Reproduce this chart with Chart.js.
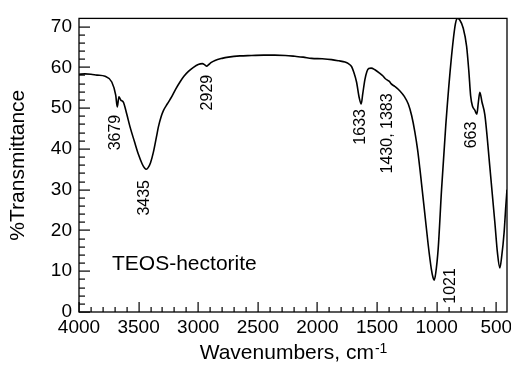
<!doctype html>
<html>

<head>
	<title>FTIR Spectrum - TEOS-hectorite</title>
	<script src="https://cdn.jsdelivr.net/npm/chart.js@4/dist/chart.umd.min.js"></script>
	<style>
	html, body {
		margin: 0;
		padding: 0;
		background: #fff;
	}
	.chart-container {
		width: 511px;
		height: 366px;
	}
	</style>
</head>

<body>
	<div class="chart-container">
		<canvas id="chart"></canvas>
	</div>
	<script>
		var FONT = '"Liberation Sans", Arial, Helvetica, sans-serif';

		// spectrum, high to low wavenumber (cm-1) and %T
		var wavenumbers = [
			4000, 3950, 3900, 3850, 3781, 3725, 3692, 3679, 3665, 3650,
			3627, 3600, 3572, 3535, 3501, 3470, 3450, 3435, 3420, 3400,
			3376, 3350, 3334, 3310, 3292, 3260, 3222, 3190, 3153, 3120,
			3082, 3040, 3000, 2965, 2945, 2929, 2915, 2890, 2859, 2800,
			2747, 2650, 2552, 2450, 2359, 2270, 2189, 2120, 2049, 1960,
			1881, 1820, 1769, 1740, 1714, 1695, 1672, 1650, 1633, 1620,
			1602, 1585, 1570, 1550, 1518, 1480, 1448, 1430, 1410, 1395,
			1383, 1350, 1308, 1270, 1238, 1210, 1183, 1160, 1141, 1127,
			1099, 1071, 1045, 1030, 1021, 1008, 987, 959, 923, 875,
			842, 825, 806, 777, 749, 730, 715, 700, 680, 663,
			650, 638, 620, 596, 554, 512, 490, 470, 455, 434,
			420, 410
		];
		var transmittance = [
			58.3, 58.4, 58.3, 58.1, 57.8, 56.4, 53.2, 50.3, 52.8, 52.0,
			51.4, 48.6, 45.4, 41.8, 38.6, 36.3, 35.3, 35.0, 35.4, 36.6,
			39.2, 43.0, 45.4, 48.0, 49.4, 51.0, 52.8, 54.6, 56.4, 57.8,
			59.0, 60.0, 60.7, 60.9, 60.6, 60.3, 60.6, 61.2, 61.7, 62.2,
			62.5, 62.8, 62.9, 63.0, 63.0, 62.9, 62.7, 62.5, 62.2, 62.1,
			61.9, 61.6, 61.3, 60.9, 60.2, 58.8, 56.4, 52.6, 51.0, 53.5,
			57.0, 59.0, 59.7, 59.8, 59.4, 58.6, 57.8, 57.2, 56.8, 56.5,
			56.0, 55.3, 54.2, 52.8, 51.0, 48.2, 44.2, 39.8, 35.2, 31.5,
			24.0, 16.5, 10.6, 8.4, 7.8, 9.5, 15.6, 30.0, 46.0, 62.8,
			70.8, 72.0, 71.6, 69.6, 65.2, 59.0, 53.0, 50.5, 49.5, 48.5,
			51.5, 53.9, 51.5, 48.4, 35.6, 22.0, 14.5, 10.8, 13.5, 19.6,
			26.0, 30.0
		];

		// axis ranges and tick steps (minor / labelled)
		var xRange = [410, 4000];
		var xMinorStep = 100;
		var xMajorStep = 500;
		var yRange = [0, 72];
		var yMinorStep = 2;
		var yMajorStep = 10;

		// band assignments written beside the curve: text, anchor wavenumber, anchor %T
		var bandLabels = ['3679', '3435', '2929', '1633', '1430, 1383', '663', '1021'];
		var bandLabelX = [3692, 3453, 2923, 1636, 1414, 708, 882];
		var bandLabelY = [44.0, 28.0, 53.8, 45.4, 43.8, 43.4, 6.4];

		var sampleName = 'TEOS-hectorite';
		var xTitle = 'Wavenumbers, cm';
		var xTitleSup = '-1';
		var yTitle = '%Transmittance';

		var points = wavenumbers.map(function(w, i) {
			return {x: w, y: transmittance[i]};
		});

		function stepTicks(min, max, step) {
			var out = [];
			for (var v = Math.ceil(min / step) * step; v <= max; v += step) {
				out.push({value: v});
			}
			return out;
		}

		// box frame, inward tick marks and the text overlays
		var spectrumDecor = {
			id: 'spectrumDecor',
			afterDraw: function(chart) {
				var ctx = chart.ctx;
				var a = chart.chartArea;
				var xs = chart.scales.x;
				var ys = chart.scales.y;

				ctx.save();
				ctx.strokeStyle = '#000';
				ctx.lineWidth = 1.3;
				ctx.strokeRect(a.left, a.top, a.right - a.left, a.bottom - a.top);

				// tick marks pointing into the plot
				ctx.fillStyle = '#000';
				var i, t, len, p;
				for (i = 0; i < xs.ticks.length; i++) {
					t = xs.ticks[i].value;
					len = t % xMajorStep === 0 ? 10 : 5;
					p = Math.round(xs.getPixelForValue(t));
					ctx.fillRect(p - 0.5, a.bottom - len, 1.2, len);
				}
				for (i = 0; i < ys.ticks.length; i++) {
					t = ys.ticks[i].value;
					if (t >= yRange[1]) continue;
					len = t % yMajorStep === 0 ? 11 : 6;
					p = Math.round(ys.getPixelForValue(t));
					ctx.fillRect(a.left, p - 0.5, len, 1.2);
				}

				// rotated band positions
				ctx.font = '16px ' + FONT;
				ctx.textAlign = 'center';
				ctx.textBaseline = 'middle';
				bandLabels.forEach(function(txt, k) {
					ctx.save();
					ctx.translate(xs.getPixelForValue(bandLabelX[k]), ys.getPixelForValue(bandLabelY[k]));
					ctx.rotate(-Math.PI / 2);
					ctx.fillText(txt, 0, 0);
					ctx.restore();
				});

				// sample name
				ctx.font = '21px ' + FONT;
				ctx.textAlign = 'left';
				ctx.fillText(sampleName, xs.getPixelForValue(3723), ys.getPixelForValue(11.8));

				// x axis title with superscript
				ctx.textBaseline = 'alphabetic';
				ctx.font = '21px ' + FONT;
				var wMain = ctx.measureText(xTitle).width;
				ctx.font = '14px ' + FONT;
				var wSup = ctx.measureText(xTitleSup).width;
				var x0 = (a.left + a.right) / 2 - (wMain + wSup) / 2;
				ctx.font = '21px ' + FONT;
				ctx.fillText(xTitle, x0, 359);
				ctx.font = '14px ' + FONT;
				ctx.fillText(xTitleSup, x0 + wMain + 1, 353);
				ctx.restore();
			}
		};

		window.onload = function() {
			var ctx = document.getElementById('chart').getContext('2d');
			new Chart(ctx, {
				type: 'line',
				data: {
					datasets: [{
						label: sampleName,
						data: points,
						borderColor: '#000',
						borderWidth: 1.6,
						pointRadius: 0,
						fill: false,
						cubicInterpolationMode: 'monotone'
					}]
				},
				options: {
					responsive: true,
					maintainAspectRatio: false,
					animation: false,
					layout: {
						padding: {top: 10, right: 4, left: 0, bottom: 0}
					},
					plugins: {
						legend: {display: false},
						tooltip: {enabled: false}
					},
					scales: {
						x: {
							type: 'linear',
							reverse: true,
							min: xRange[0],
							max: xRange[1],
							afterBuildTicks: function(scale) {
								scale.ticks = stepTicks(xRange[0], xRange[1], xMinorStep);
							},
							afterFit: function(scale) { scale.height = 54; },
							grid: {display: false, drawTicks: false},
							border: {display: false},
							ticks: {
								autoSkip: false,
								maxRotation: 0,
								padding: 4,
								color: '#000',
								font: {family: FONT, size: 19},
								callback: function(v) { return v % xMajorStep === 0 ? String(v) : ''; }
							}
						},
						y: {
							min: yRange[0],
							max: yRange[1],
							afterBuildTicks: function(scale) {
								scale.ticks = stepTicks(yRange[0], yRange[1], yMinorStep);
							},
							afterFit: function(scale) { scale.width = 79; },
							grid: {display: false, drawTicks: false},
							border: {display: false},
							title: {
								display: true,
								text: yTitle,
								color: '#000',
								font: {family: FONT, size: 21},
								padding: {top: 6, bottom: 0}
							},
							ticks: {
								autoSkip: false,
								padding: 7,
								color: '#000',
								font: {family: FONT, size: 19},
								callback: function(v) { return v % yMajorStep === 0 ? String(v) : ''; }
							}
						}
					}
				},
				plugins: [spectrumDecor]
			});
		};
	</script>
</body>

</html>
